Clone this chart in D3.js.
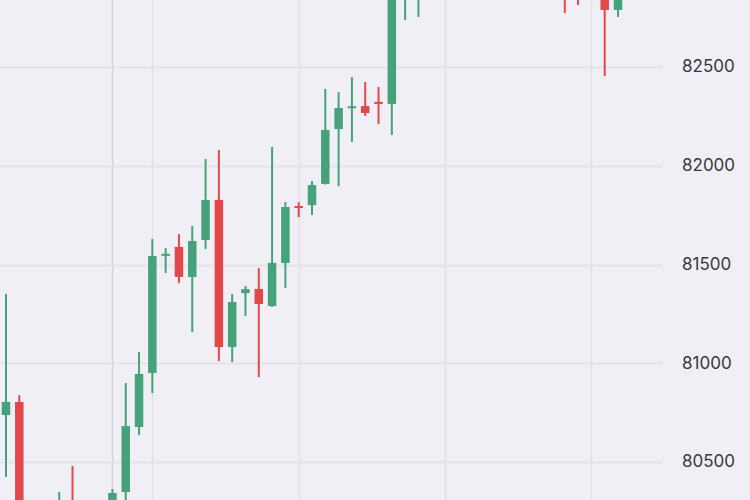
<!DOCTYPE html>
<html>
<head>
<meta charset="utf-8">
<script src="https://cdn.jsdelivr.net/npm/d3@7"></script>
<style>
  html, body { margin: 0; padding: 0; background: #f0eff5; }
  svg { display: block; }
</style>
</head>
<body>
<svg id="chart" width="750" height="500"></svg>
<script>
// ---- data (candle index order) ----
const open  = [80738, 80804, 80150, 80230, 80180, 80280, 80200, 80240, 80280, 80348,
               80677, 80951, 81545, 81589, 81437, 81624, 81827, 81082, 81355, 81376,
               81290, 81508, 81795, 81801, 81908, 82186, 82292, 82302, 82322, 82313,
               82960, 83000, 83080, 83120, 83100, 83150, 83130, 83180, 83160, 83140,
               83100, 83060, 83000, 82950, 82880, 82920, 82789];
const close = [80804, 80150, 80230, 80180, 80280, 80200, 80240, 80290, 80343, 80682,
               80946, 81543, 81553, 81437, 81619, 81827, 81082, 81310, 81375, 81300,
               81508, 81791, 81787, 81902, 82181, 82292, 82300, 82267, 82314, 82960,
               83020, 83080, 83120, 83100, 83150, 83130, 83180, 83160, 83140, 83100,
               83060, 83000, 82900, 82880, 82920, 82789, 82880];
const high  = [81351, 80839, 80290, 80280, 80348, 80480, 80290, 80305, 80363, 80900,
               81057, 81629, 81583, 81654, 81695, 82034, 82080, 81351, 81391, 81482,
               82095, 81816, 81816, 81923, 82389, 82373, 82449, 82424, 82399, 83050,
               83100, 83120, 83180, 83200, 83210, 83220, 83240, 83230, 83200, 83170,
               83120, 83080, 83050, 83000, 82980, 82960, 82920];
const low   = [80424, 80090, 80050, 80120, 80140, 80150, 80160, 80200, 80250, 80300,
               80637, 80849, 81457, 81406, 81158, 81578, 81011, 81006, 81239, 80930,
               81285, 81381, 81740, 81751, 81905, 81897, 82120, 82252, 82211, 82156,
               82738, 82753, 83010, 83040, 83050, 83080, 83090, 83100, 83080, 83050,
               83010, 82960, 82773, 82814, 82850, 82454, 82753];
const yTicks = [80500, 81000, 81500, 82000, 82500];
const timeGridIdx = [8, 11, 22, 33, 44];

// ---- chart ----
const W = 750, H = 500, plotRight = 663;
const svg = d3.select("#chart");
const x = d3.scaleLinear().domain([0, 46]).range([6, 618]);
const y = d3.scaleLinear().domain([80500, 82500]).range([462, 67]);
const green = "#45a27b", red = "#e2474a";

svg.append("rect").attr("width", W).attr("height", H).attr("fill", "#f0eff5");

// horizontal grid
svg.append("g").selectAll("line").data(yTicks).join("line")
  .attr("x1", 0).attr("x2", plotRight)
  .attr("y1", d => Math.round(y(d)) + 0.5).attr("y2", d => Math.round(y(d)) + 0.5)
  .attr("stroke", "#e1e0e6").attr("stroke-width", 1.5);

// vertical grid
svg.append("g").selectAll("line").data(timeGridIdx).join("line")
  .attr("x1", d => Math.round(x(d)) + 0.5).attr("x2", d => Math.round(x(d)) + 0.5)
  .attr("y1", 0).attr("y2", H)
  .attr("stroke", (d, i) => i === 0 ? "#d6d5dc" : "#e1e0e6").attr("stroke-width", 1.5);

// y axis labels
const yAxis = d3.axisRight(y).tickValues(yTicks).tickSize(0).tickPadding(0).tickFormat(d3.format("d"));
const ga = svg.append("g").attr("transform", `translate(682,0)`).call(yAxis);
ga.select(".domain").remove();
ga.selectAll("text")
  .attr("font-family", "Inter, 'Noto Sans', sans-serif")
  .attr("font-size", 17).attr("fill", "#38383c").attr("dy", "0.28em");

// candles
const idx = d3.range(open.length);
const g = svg.append("g");
const bw = 8.5;
g.selectAll("line.wick").data(idx).join("line").attr("class", "wick")
  .attr("x1", i => x(i)).attr("x2", i => x(i))
  .attr("y1", i => y(high[i])).attr("y2", i => y(low[i]))
  .attr("stroke", i => close[i] >= open[i] ? green : red).attr("stroke-width", 2);
g.selectAll("rect.body").data(idx).join("rect").attr("class", "body")
  .attr("x", i => x(i) - bw / 2).attr("width", bw)
  .attr("y", i => {
    const t = y(Math.max(open[i], close[i])), b = y(Math.min(open[i], close[i]));
    return b - t < 2 ? (t + b) / 2 - 1 : t;
  })
  .attr("height", i => Math.max(2, y(Math.min(open[i], close[i])) - y(Math.max(open[i], close[i]))))
  .attr("fill", i => close[i] >= open[i] ? green : red);
</script>
</body>
</html>
